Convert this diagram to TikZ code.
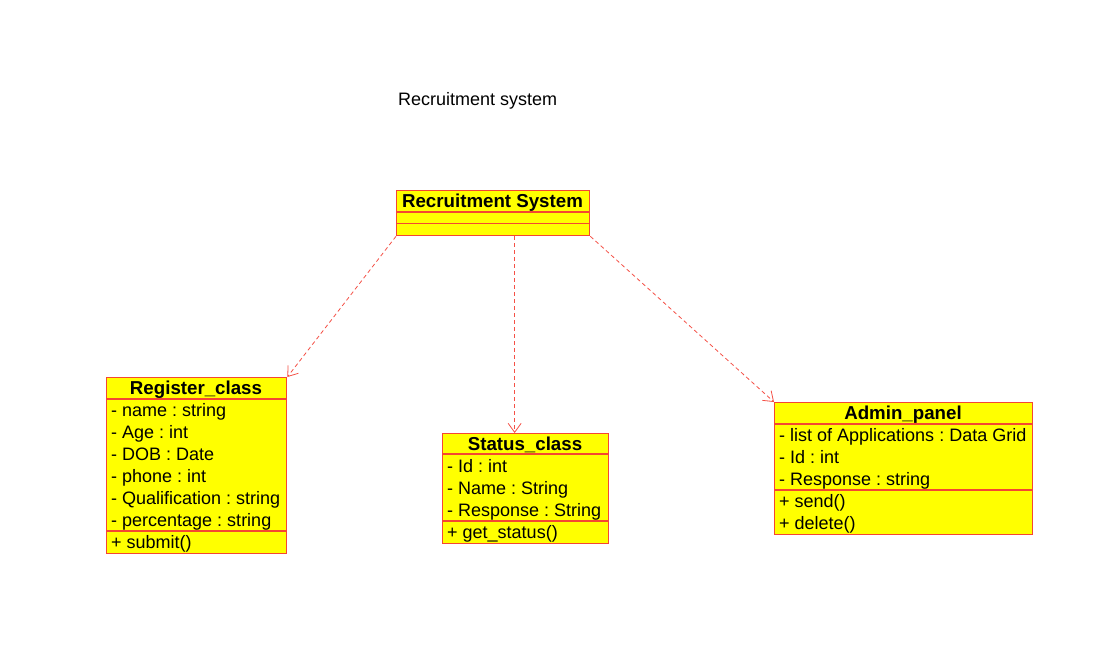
\documentclass[tikz,border=0pt]{standalone}
\usepackage{fontspec}
\setmainfont{Liberation Sans}
\usetikzlibrary{arrows.meta}
\definecolor{umlred}{RGB}{245,70,50}
\definecolor{deplred}{RGB}{245,80,70}
\definecolor{umlyellow}{RGB}{255,255,0}
\begin{document}
\frenchspacing
\begin{tikzpicture}[x=1pt,y=-1pt,
  every node/.style={font=\fontsize{18}{22}\selectfont},
  classbox/.style={draw=umlred,fill=umlyellow,line width=1.3pt,anchor=north west,inner sep=0pt,minimum width=#1},
  sep/.style={draw=umlred,line width=1.3pt},
  hdr/.style={anchor=base,inner sep=0pt,font=\fontsize{18.7}{22}\selectfont\bfseries},
  row/.style={anchor=base west,inner sep=0pt},
  dep/.style={draw=deplred,line width=0.8pt,dash pattern=on 4pt off 3pt,-{Straight Barb[length=9pt,width=13pt]}}
]
\useasboundingbox (0,0) rectangle (1102,657);
\fill[white] (0,0) rectangle (1102,657);

\node[row] (title) at (398,105.4) {Recruitment system};

% Recruitment System
\node[classbox=193pt,minimum height=45pt] (rs) at (396,190) {};
\draw[sep] (396,212) -- (589,212);
\draw[sep] (396,223.5) -- (589,223.5);
\node[hdr] (rsh) at (492.5,207.4) {Recruitment System};

% Register_class
\node[classbox=180pt,minimum height=176pt] (reg) at (106,377) {};
\draw[sep] (106,399) -- (286,399);
\draw[sep] (106,531) -- (286,531);
\node[hdr] (regh) at (196,394.4) {Register\_class};
\node[row] (r1) at (111,416.4) {- name : string};
\node[row] (r2) at (111,438.4) {- Age : int};
\node[row] (r3) at (111,460.4) {- DOB : Date};
\node[row] (r4) at (111,482.4) {- phone : int};
\node[row] (r5) at (111,504.4) {- Qualification : string};
\node[row] (r6) at (111,526.4) {- percentage : string};
\node[row] (r7) at (111,548.4) {+ submit()};

% Status_class
\node[classbox=166pt,minimum height=110pt] (stat) at (442,433) {};
\draw[sep] (442,454) -- (608,454);
\draw[sep] (442,521) -- (608,521);
\node[hdr] (stath) at (525,450) {Status\_class};
\node[row] (s1) at (447,472.4) {- Id : int};
\node[row] (s2) at (447,494.4) {- Name : String};
\node[row] (s3) at (447,516.4) {- Response : String};
\node[row] (s4) at (447,538.4) {+ get\_status()};

% Admin_panel
\node[classbox=258pt,minimum height=132pt] (adm) at (774,402) {};
\draw[sep] (774,424) -- (1032,424);
\draw[sep] (774,490) -- (1032,490);
\node[hdr] (admh) at (903,419.4) {Admin\_panel};
\node[row] (a1) at (779,441.4) {- list of Applications : Data Grid};
\node[row] (a2) at (779,463.4) {- Id : int};
\node[row] (a3) at (779,485.4) {- Response : string};
\node[row] (a4) at (779,507.4) {+ send()};
\node[row] (a5) at (779,529.4) {+ delete()};

% dependencies
\draw[dep] (rs.south west) -- (reg.north east);
\draw[dep] ([xshift=21.5pt]rs.south) -- ([xshift=-11pt]stat.north);
\draw[dep] (rs.south east) -- (adm.north west);
\end{tikzpicture}
\end{document}
